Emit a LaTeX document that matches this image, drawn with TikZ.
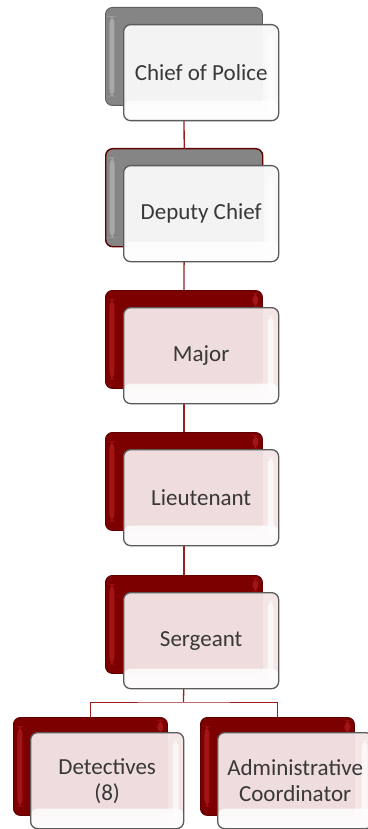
\documentclass[tikz,border=0pt]{standalone}
\usepackage{fontspec}
\setmainfont{Carlito}
\definecolor{bkred}{HTML}{7C0000}
\definecolor{bkredhi}{HTML}{A31515}
\definecolor{bkredline}{HTML}{5E0000}
\definecolor{bkgray}{HTML}{858585}
\definecolor{bkgrayhi}{HTML}{A8A8A8}
\definecolor{bkgrayline}{HTML}{5F5F5F}
\definecolor{frpink}{HTML}{F4E6E6}
\definecolor{frwhite}{HTML}{F8F8F8}
\definecolor{frline}{HTML}{5A5A5A}
\definecolor{txtgray}{HTML}{383838}
\definecolor{conred}{HTML}{9E1E1E}
\tikzset{
  backbase/.style={rectangle, rounded corners=7pt, minimum width=157pt, minimum height=98pt,
    anchor=north west, inner sep=0pt, line width=0.9pt},
  backred/.style={backbase, draw=bkredline, fill=bkred,
    path picture={\fill[bkredhi] ([xshift=4pt,yshift=-9pt]path picture bounding box.north west) rectangle ([xshift=9pt,yshift=9pt]path picture bounding box.south west);
    \fill[bkredhi] ([xshift=-10pt,yshift=-3pt]path picture bounding box.north east) rectangle ([xshift=-4pt,yshift=-16pt]path picture bounding box.north east);}},
  backgray/.style={backbase, draw=bkgrayline, fill=bkgray,
    path picture={\fill[bkgrayhi] ([xshift=4pt,yshift=-9pt]path picture bounding box.north west) rectangle ([xshift=9pt,yshift=9pt]path picture bounding box.south west);}},
  backgrayred/.style={backgray, draw=bkredline, line width=1.4pt},
  frontbase/.style={rectangle, rounded corners=7pt, minimum width=155pt, minimum height=96pt,
    anchor=north west, inner sep=2pt, draw=frline, line width=1.3pt, fill opacity=0.96, text opacity=1,
    font=\fontsize{23}{26}\selectfont, text=txtgray, align=center,
    path picture={\fill[white,opacity=0.8] (path picture bounding box.south west) rectangle ([yshift=20pt]path picture bounding box.south east);
      \fill[white,opacity=0.7] ([xshift=-11pt,yshift=-8pt]path picture bounding box.north east) rectangle ([xshift=-5pt,yshift=8pt]path picture bounding box.south east);}},
  frontpink/.style={frontbase, fill=frpink},
  frontwhite/.style={frontbase, fill=frwhite},
  conn/.style={draw=conred, line width=1.3pt}
}
\begin{document}
\begin{tikzpicture}[x=1pt,y=-1pt]
\useasboundingbox[fill=white] (0,0) rectangle (367,829);
% back boxes
\node[backgray]    (b1) at (105,7) {};
\node[backgrayred] (b2) at (105,148) {};
\node[backred]     (b3) at (105,290) {};
\node[backred]     (b4) at (105,432) {};
\node[backred]     (b5) at (105,575) {};
\node[backred, minimum width=154pt] (b6) at (13,717) {};
\node[backred, minimum width=154pt] (b7) at (200,717) {};
% connectors
\draw[conn] (b1.south) -- (b2.north);
\draw[conn] (b2.south) -- (b3.north);
\draw[conn] (b3.south) -- (b4.north);
\draw[conn] (b4.south) -- (b5.north);
\coordinate (j) at (183.5,702);
\draw[conn] (b5.south) -- (j);
\draw[conn, line width=1pt] (b6.north) |- (j) -| (b7.north);
% front boxes
\node[frontwhite] (f1) at (123,24) {Chief of Police};
\node[frontwhite] (f2) at (123,165) {Deputy Chief};
\node[frontpink]  (f3) at (123,307) {Major};
\node[frontpink]  (f4) at (123,449) {Lieutenant};
\node[frontpink]  (f5) at (123,592) {Sergeant};
\node[frontpink, minimum width=153pt] (f6) at (30,732) {Detectives\\(8)};
\node[frontpink, minimum width=155pt] (f7) at (217,732) {Administrative\\Coordinator};
\end{tikzpicture}
\end{document}
